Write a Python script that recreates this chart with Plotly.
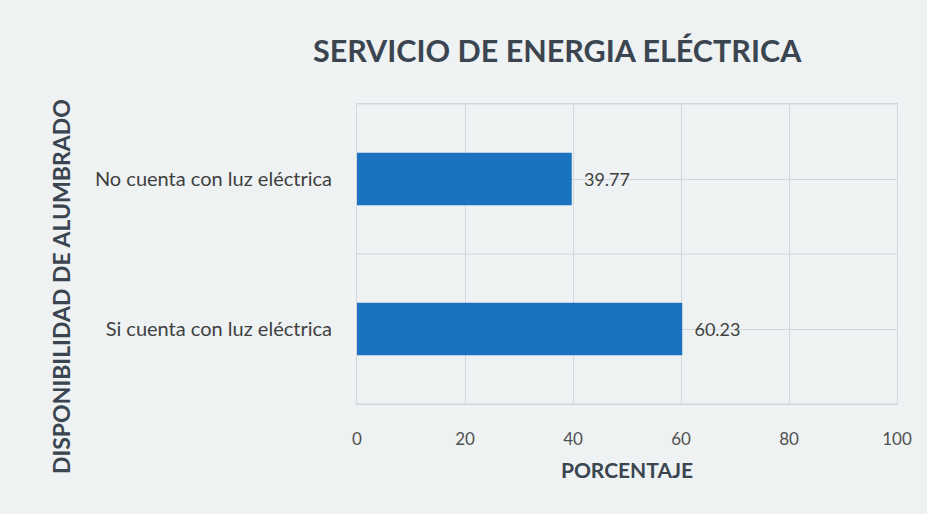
import plotly.graph_objects as go

categorias = ["Si cuenta con luz eléctrica", "No cuenta con luz eléctrica"]
porcentajes = [60.23, 39.77]
etiquetas = ["60.23", "39.77"]
ticks_x = [0, 20, 40, 60, 80, 100]

titulo = "SERVICIO DE ENERGIA ELÉCTRICA"
titulo_x = "PORCENTAJE"
titulo_y = "DISPONIBILIDAD DE ALUMBRADO"

FONT = "Lato, 'Open Sans', sans-serif"
BG = "#eef2f3"
GRID = "#d3d7dc"

fig = go.Figure()
fig.add_trace(go.Bar(
    y=categorias, x=porcentajes, orientation="h",
    marker=dict(color="#1a72c0", line=dict(width=0)),
    text=etiquetas, texttemplate="\u00a0\u00a0%{text}", textposition="outside", cliponaxis=False,
    textfont=dict(family=FONT, size=18, color="#404040"),
))

# gridlines at category boundaries
for b in [-0.5, 0.5, 1.5]:
    fig.add_shape(type="line", xref="x", yref="y", x0=0, x1=100, y0=b, y1=b,
                  line=dict(color=GRID, width=1), layer="below")

fig.update_layout(
    width=927, height=514,
    paper_bgcolor=BG, plot_bgcolor=BG,
    margin=dict(l=357, r=30, t=104, b=110),
    showlegend=False,
    bargap=0.65,
    title=dict(text="<b>" + titulo + "</b>", x=0.601, xanchor="center", y=0.90, yanchor="middle",
               font=dict(family=FONT, size=30.5, color="#3b4550")),
    xaxis=dict(range=[0, 100], tickvals=ticks_x, showgrid=True, gridcolor=GRID, gridwidth=1,
               zeroline=False, showline=True, mirror=True, linecolor=GRID, ticks="", ticklen=0,
               ticklabelstandoff=20,
               tickfont=dict(family=FONT, size=17, color="#505050"),
               title=dict(text="<b>" + titulo_x + "</b>", standoff=14,
                          font=dict(family=FONT, size=21, color="#3b4550"))),
    yaxis=dict(showgrid=True, gridcolor=GRID, gridwidth=1, zeroline=False,
               showline=True, mirror=True, linecolor=GRID,
               range=[-0.5, 1.5], ticks="", ticklabelstandoff=20,
               tickfont=dict(family=FONT, size=20, color="#404040")),
    annotations=[dict(text="<b>" + titulo_y + "</b>", xref="paper", yref="paper",
                      x=-0.548, y=0.39, textangle=-90, showarrow=False,
                      xanchor="center", yanchor="middle",
                      font=dict(family=FONT, size=23, color="#3b4550"))],
)

fig.write_html("out.html", config={"displayModeBar": False},
               post_script="document.body.style.margin='0';")
